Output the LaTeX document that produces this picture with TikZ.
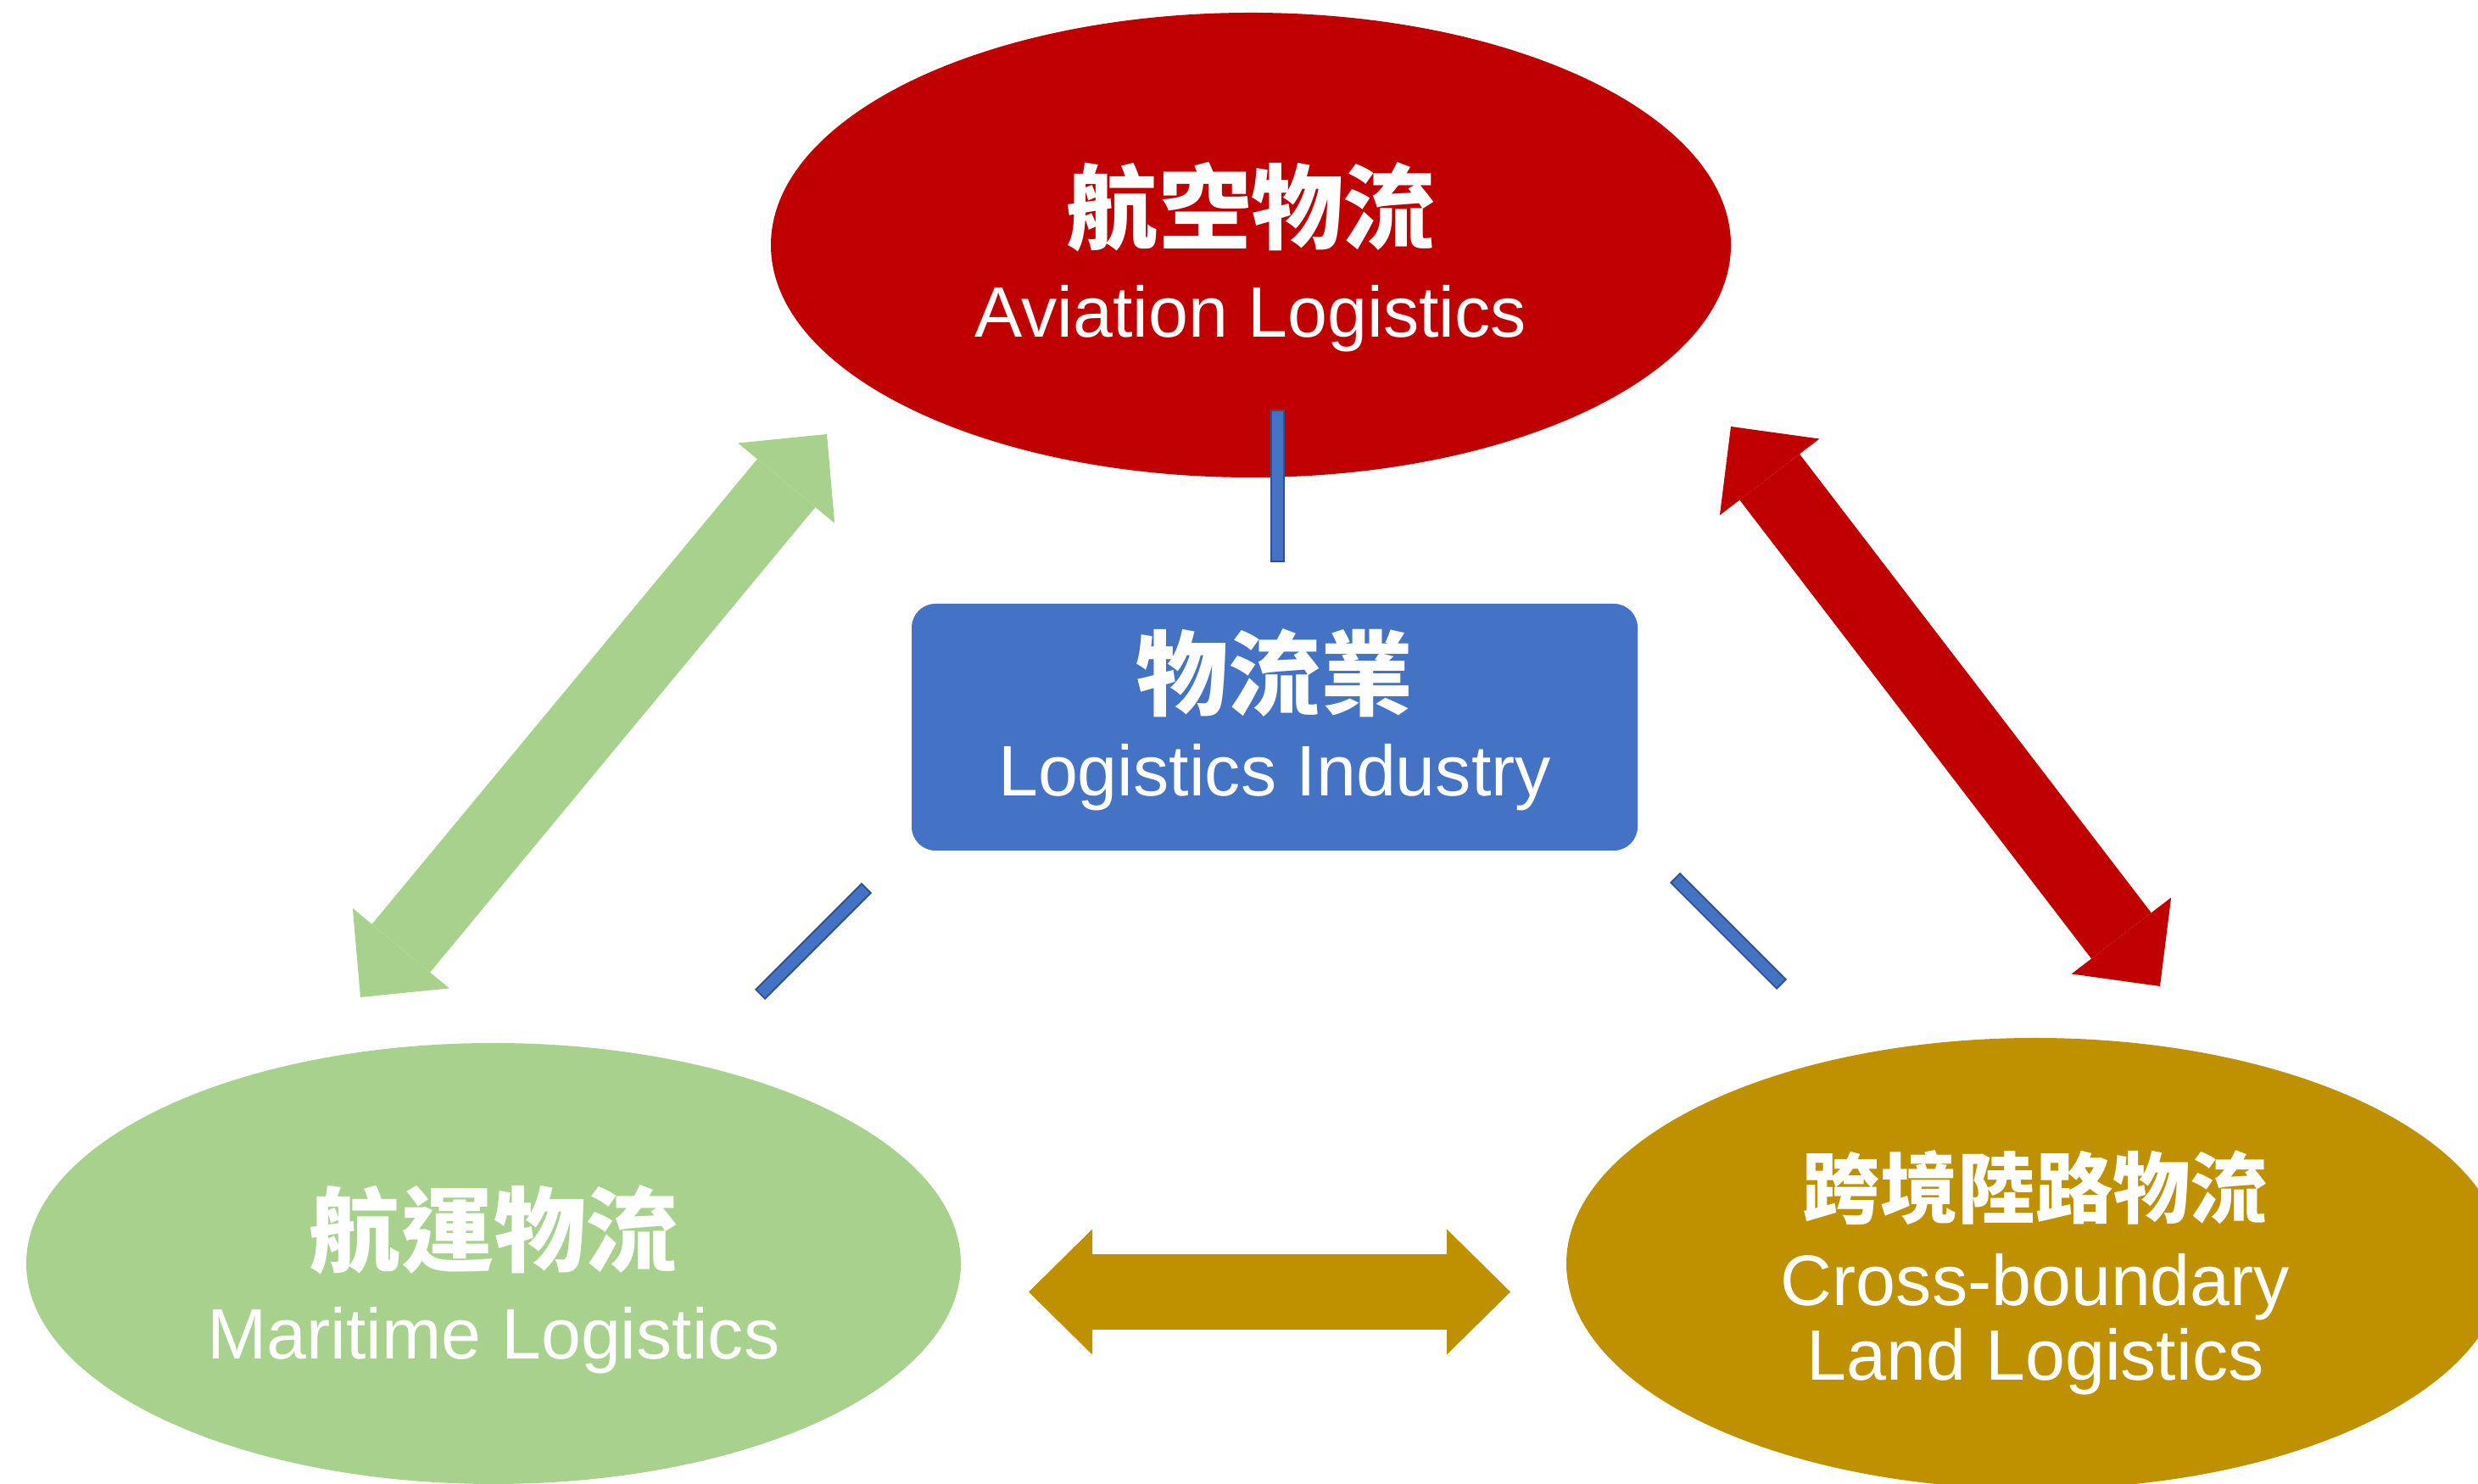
\documentclass[tikz,border=0pt]{standalone}
\usepackage{fontspec}
\setmainfont{Liberation Sans}
\newfontfamily\zhfont{Noto Sans CJK TC}
\usetikzlibrary{shapes.geometric,arrows.meta}
\definecolor{aircol}{HTML}{C00000}
\definecolor{seacol}{HTML}{A9D18E}
\definecolor{landcol}{HTML}{BF9000}
\definecolor{hubcol}{HTML}{4472C4}
\definecolor{hubedge}{HTML}{2F528F}
\tikzset{
    oval/.style={ellipse, inner sep=0pt},
    zh/.style={text=white, anchor=base, font=\zhfont\bfseries\fontsize{31}{31}\selectfont},
    en/.style={text=white, anchor=base, font=\fontsize{24}{24}\selectfont},
    link/.style={draw=hubedge, line width=0.02cm, double=hubcol, double distance=0.13cm, line cap=rect},
    dblarrow/.style={line width=0.89cm, >={Triangle[length=0.75cm,width=1.48cm,line width=0pt]}, <->}
}
\begin{document}
\begin{tikzpicture}
    \useasboundingbox (0,0) rectangle (29.22,17.5);
    \clip (0,0) rectangle (29.22,17.5);
    % the three branches and the hub
    \node[oval, fill=aircol, minimum width=11.32cm, minimum height=5.48cm] (air) at (14.75,14.61) {};
    \node[oval, fill=seacol, minimum width=11.02cm, minimum height=5.2cm] (sea) at (5.82,2.6) {};
    \node[oval, fill=landcol, minimum width=11.06cm, minimum height=5.32cm] (land) at (24.0,2.6) {};
    \node[fill=hubcol, rounded corners=0.28cm, minimum width=8.56cm, minimum height=2.91cm] (hub) at (15.03,8.925) {};
    % labels
    \node[zh] (airzh) at ([yshift=0.03cm]air.center) {航空物流};
    \node[en] (airen) at ([yshift=-1.09cm]air.center) {Aviation Logistics};
    \node[zh] (hubzh) at ([yshift=0.215cm]hub.center) {物流業};
    \node[en] (huben) at ([yshift=-0.815cm]hub.center) {Logistics Industry};
    \node[zh] (seazh) at ([yshift=-0.02cm]sea.center) {航運物流};
    \node[en] (seaen) at ([yshift=-1.13cm]sea.center) {Maritime Logistics};
    \node[zh, font=\zhfont\bfseries\fontsize{26}{26}\selectfont] (landzh) at ([yshift=0.54cm]land.center) {跨境陸路物流};
    \node[en] (landen1) at ([yshift=-0.50cm]land.center) {Cross-boundary};
    \node[en] (landen2) at ([yshift=-1.38cm]land.center) {Land Logistics};
    % short links from the hub
    \coordinate (la) at (15.06,12.585);
    \coordinate (lb) at (15.06,10.955);
    \coordinate (lc) at (9.02,5.83);
    \coordinate (ld) at (10.16,6.97);
    \coordinate (le) at (19.81,7.09);
    \coordinate (lf) at (20.95,5.95);
    \draw[link] (la) -- (lb);
    \draw[link] (lc) -- (ld);
    \draw[link] (le) -- (lf);
    % two-way arrows between the branches
    \coordinate (g1) at (4.25,5.74);
    \coordinate (g2) at (9.75,12.38);
    \coordinate (r1) at (20.41,12.47);
    \coordinate (r2) at (25.47,5.87);
    \coordinate (y1) at (12.13,2.265);
    \coordinate (y2) at (17.81,2.265);
    \draw[dblarrow, seacol] (g1) -- (g2);
    \draw[dblarrow, aircol] (r1) -- (r2);
    \draw[dblarrow, landcol] (y1) -- (y2);
\end{tikzpicture}
\end{document}
